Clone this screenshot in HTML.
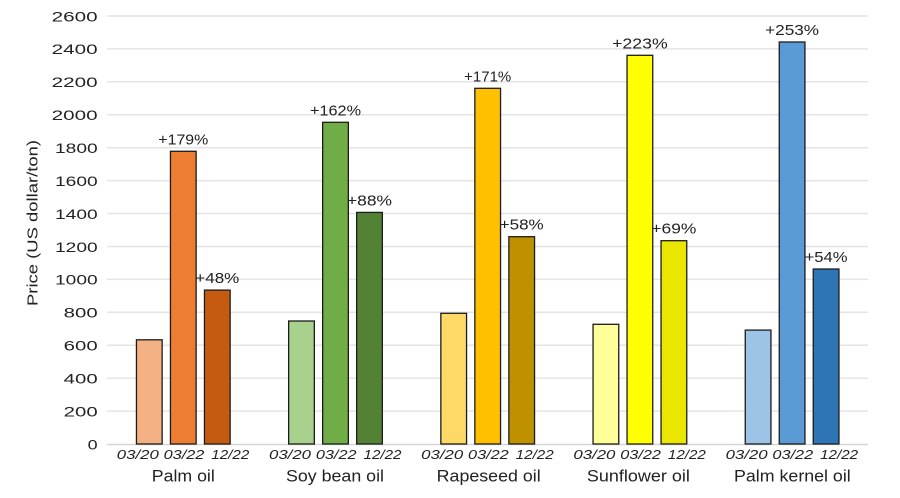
<!DOCTYPE html>
<html><head><meta charset="utf-8"><style>
html,body{margin:0;padding:0;background:#fff;}
svg{display:block;}
text{font-family:"Liberation Sans",sans-serif;fill:#222;}
</style></head><body>
<svg width="900" height="498" viewBox="0 0 900 498" xmlns="http://www.w3.org/2000/svg">
<g stroke="#e4e4e4" stroke-width="1.5">
<line x1="107" x2="868" y1="16.0" y2="16.0"/>
<line x1="107" x2="868" y1="48.9" y2="48.9"/>
<line x1="107" x2="868" y1="81.8" y2="81.8"/>
<line x1="107" x2="868" y1="114.8" y2="114.8"/>
<line x1="107" x2="868" y1="147.7" y2="147.7"/>
<line x1="107" x2="868" y1="180.6" y2="180.6"/>
<line x1="107" x2="868" y1="213.5" y2="213.5"/>
<line x1="107" x2="868" y1="246.5" y2="246.5"/>
<line x1="107" x2="868" y1="279.4" y2="279.4"/>
<line x1="107" x2="868" y1="312.3" y2="312.3"/>
<line x1="107" x2="868" y1="345.2" y2="345.2"/>
<line x1="107" x2="868" y1="378.2" y2="378.2"/>
<line x1="107" x2="868" y1="411.1" y2="411.1"/>
</g>
<line x1="107" x2="868" y1="444.5" y2="444.5" stroke="#d6d6d6" stroke-width="1.5"/>

<g font-size="14" text-anchor="end">
<text x="97.7" y="21.3" textLength="46" lengthAdjust="spacingAndGlyphs">2600</text>
<text x="97.7" y="54.2" textLength="46" lengthAdjust="spacingAndGlyphs">2400</text>
<text x="97.7" y="87.1" textLength="46" lengthAdjust="spacingAndGlyphs">2200</text>
<text x="97.7" y="120.1" textLength="46" lengthAdjust="spacingAndGlyphs">2000</text>
<text x="97.7" y="153.0" textLength="42.7" lengthAdjust="spacingAndGlyphs">1800</text>
<text x="97.7" y="185.9" textLength="42.7" lengthAdjust="spacingAndGlyphs">1600</text>
<text x="97.7" y="218.8" textLength="42.7" lengthAdjust="spacingAndGlyphs">1400</text>
<text x="97.7" y="251.8" textLength="42.7" lengthAdjust="spacingAndGlyphs">1200</text>
<text x="97.7" y="284.7" textLength="42.7" lengthAdjust="spacingAndGlyphs">1000</text>
<text x="97.7" y="317.6" textLength="34" lengthAdjust="spacingAndGlyphs">800</text>
<text x="97.7" y="350.5" textLength="34" lengthAdjust="spacingAndGlyphs">600</text>
<text x="97.7" y="383.5" textLength="34" lengthAdjust="spacingAndGlyphs">400</text>
<text x="97.7" y="416.4" textLength="34" lengthAdjust="spacingAndGlyphs">200</text>
<text x="97.7" y="449.5" textLength="10" lengthAdjust="spacingAndGlyphs">0</text>
</g>

<text transform="translate(37.5,223) rotate(-90)" font-size="15" text-anchor="middle" textLength="166" lengthAdjust="spacingAndGlyphs">Price (US dollar/ton)</text>

<g stroke="#1c1c1c" stroke-width="1.3">
<rect x="136.45" y="339.8" width="25.7" height="104.2" fill="#F4B183"/>
<rect x="170.45" y="151.3" width="25.7" height="292.7" fill="#ED7D31"/>
<rect x="204.45" y="290.1" width="25.7" height="153.9" fill="#C55A11"/>
<rect x="288.65" y="321.0" width="25.7" height="123.0" fill="#A9D18E"/>
<rect x="322.65" y="122.3" width="25.7" height="321.7" fill="#70AD47"/>
<rect x="356.65" y="212.4" width="25.7" height="231.6" fill="#548235"/>
<rect x="440.85" y="313.3" width="25.7" height="130.7" fill="#FFD966"/>
<rect x="474.85" y="88.3" width="25.7" height="355.7" fill="#FFC000"/>
<rect x="508.85" y="236.7" width="25.7" height="207.3" fill="#BF9000"/>
<rect x="593.05" y="324.3" width="25.7" height="119.7" fill="#FFFF99"/>
<rect x="627.05" y="55.3" width="25.7" height="388.7" fill="#FFFF00"/>
<rect x="661.05" y="240.7" width="25.7" height="203.3" fill="#EBE600"/>
<rect x="745.25" y="330.1" width="25.7" height="113.9" fill="#9DC3E6"/>
<rect x="779.25" y="42.0" width="25.7" height="402.0" fill="#5B9BD5"/>
<rect x="813.25" y="269.0" width="25.7" height="175.0" fill="#2E75B6"/>
</g>

<g font-size="15" text-anchor="middle">
<text x="183.3" y="144.3" textLength="50" lengthAdjust="spacingAndGlyphs">+179%</text>
<text x="217.3" y="283.1" textLength="44" lengthAdjust="spacingAndGlyphs">+48%</text>
<text x="335.5" y="115.3" textLength="51" lengthAdjust="spacingAndGlyphs">+162%</text>
<text x="369.5" y="205.4" textLength="45" lengthAdjust="spacingAndGlyphs">+88%</text>
<text x="487.7" y="81.3">+171%</text>
<text x="521.7" y="229.7" textLength="44" lengthAdjust="spacingAndGlyphs">+58%</text>
<text x="639.9" y="48.3" textLength="55.6" lengthAdjust="spacingAndGlyphs">+223%</text>
<text x="673.9" y="233.7" textLength="45" lengthAdjust="spacingAndGlyphs">+69%</text>
<text x="792.1" y="35.0" textLength="54" lengthAdjust="spacingAndGlyphs">+253%</text>
<text x="826.1" y="262.0" textLength="43" lengthAdjust="spacingAndGlyphs">+54%</text>
</g>

<g font-size="13" font-style="italic" text-anchor="middle">
<text x="137.8" y="459" textLength="42" lengthAdjust="spacingAndGlyphs">03/20</text>
<text x="184.0" y="459" textLength="40.7" lengthAdjust="spacingAndGlyphs">03/22</text>
<text x="230.3" y="459" textLength="38" lengthAdjust="spacingAndGlyphs">12/22</text>
<text x="290.0" y="459" textLength="42" lengthAdjust="spacingAndGlyphs">03/20</text>
<text x="336.2" y="459" textLength="40.7" lengthAdjust="spacingAndGlyphs">03/22</text>
<text x="382.5" y="459" textLength="38" lengthAdjust="spacingAndGlyphs">12/22</text>
<text x="442.2" y="459" textLength="42" lengthAdjust="spacingAndGlyphs">03/20</text>
<text x="488.4" y="459" textLength="40.7" lengthAdjust="spacingAndGlyphs">03/22</text>
<text x="534.7" y="459" textLength="38" lengthAdjust="spacingAndGlyphs">12/22</text>
<text x="594.4" y="459" textLength="42" lengthAdjust="spacingAndGlyphs">03/20</text>
<text x="640.6" y="459" textLength="40.7" lengthAdjust="spacingAndGlyphs">03/22</text>
<text x="686.9" y="459" textLength="38" lengthAdjust="spacingAndGlyphs">12/22</text>
<text x="746.6" y="459" textLength="42" lengthAdjust="spacingAndGlyphs">03/20</text>
<text x="792.8" y="459" textLength="40.7" lengthAdjust="spacingAndGlyphs">03/22</text>
<text x="839.1" y="459" textLength="38" lengthAdjust="spacingAndGlyphs">12/22</text>
</g>

<g font-size="16.5" text-anchor="middle">
<text x="183.3" y="481.7" textLength="63" lengthAdjust="spacingAndGlyphs">Palm oil</text>
<text x="335.0" y="481.7" textLength="98" lengthAdjust="spacingAndGlyphs">Soy bean oil</text>
<text x="488.7" y="481.7" textLength="104" lengthAdjust="spacingAndGlyphs">Rapeseed oil</text>
<text x="638.4" y="481.7" textLength="103" lengthAdjust="spacingAndGlyphs">Sunflower oil</text>
<text x="792.4" y="481.7" textLength="116.7" lengthAdjust="spacingAndGlyphs">Palm kernel oil</text>
</g>
</svg>
</body></html>
